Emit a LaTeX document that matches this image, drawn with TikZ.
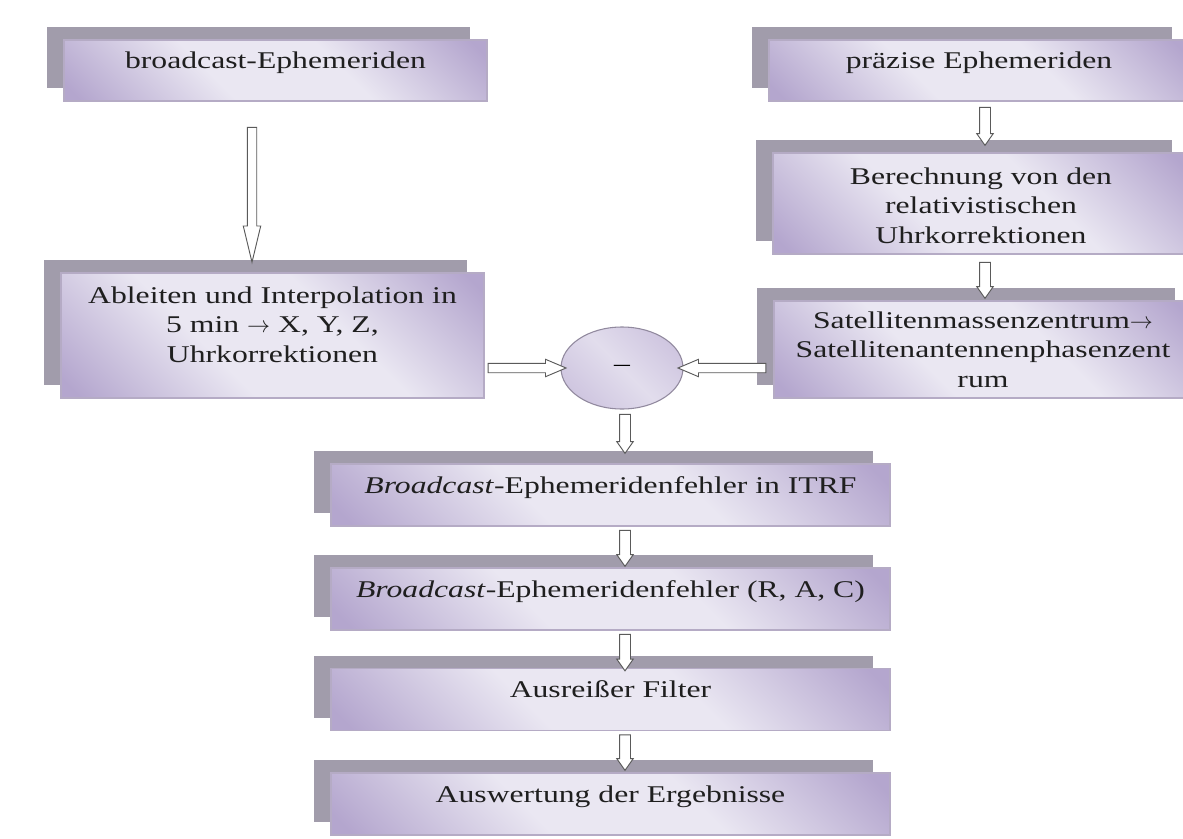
\documentclass[tikz,border=0pt]{standalone}
\usepackage{fontspec}
\setmainfont{Liberation Serif}[FakeStretch=1.32]
\usetikzlibrary{calc,positioning,shapes,shapes.arrows,shadows}

\definecolor{shadowgray}{HTML}{A19CAB}
\definecolor{lavlight}{HTML}{EAE7F2}
\definecolor{lavdark}{HTML}{B4A6CE}
\definecolor{lavmid}{HTML}{CFC6E0}
\definecolor{rim}{HTML}{B5ABC5}
\definecolor{arrowrim}{HTML}{5A5A5A}

\pgfdeclareverticalshading{lavshade}{100bp}{color(0bp)=(lavdark); color(17bp)=(lavdark);
  color(40bp)=(lavlight); color(60bp)=(lavlight); color(83bp)=(lavdark); color(100bp)=(lavdark)}
\pgfdeclareverticalshading{lavround}{100bp}{color(0bp)=(lavmid); color(25bp)=(lavmid);
  color(50bp)=(lavlight!70!lavmid); color(75bp)=(lavmid); color(100bp)=(lavmid)}

\newcommand{\px}{0.75pt}

\tikzset{
  box/.style={rectangle, draw=rim, line width=0.8pt, inner sep=0pt,
    shading=lavshade, shading angle=-45,
    align=center, text=black!88, font=\fontsize{18}{22}\selectfont,
    drop shadow={shadow xshift=-12.75pt, shadow yshift=9.75pt, fill=shadowgray, opacity=1}},
  onerow/.style={text height=12.6pt, text depth=15pt},
  lines/.style={text height=#1, text depth=2pt},
  diff/.style={ellipse, draw=rim!80!black, line width=0.8pt, inner sep=0pt,
    minimum width=122*\px, minimum height=82*\px,
    shading=lavround, shading angle=-45,
    font=\fontsize{18}{22}\selectfont},
  blockarrow/.style={single arrow, draw=arrowrim, fill=white, line width=0.7pt,
    inner xsep=0pt, inner ysep=4.25*\px, single arrow head extend=4*\px},
  short/.style={single arrow tip angle=70, inner ysep=5*\px, single arrow head extend=2.75*\px},
  hollow/.style={to path={
    let \p1=(\tikztostart), \p2=(\tikztotarget),
        \n1={veclen(\x2-\x1,\y2-\y1)}, \n2={atan2(\y2-\y1,\x2-\x1)} in
    ($(\p1)!.5!(\p2)$) node[blockarrow, minimum height=\n1, rotate=\n2, #1] {}}}
}

\begin{document}
\begin{tikzpicture}[x=\px, y=-\px]
\useasboundingbox (0,0) rectangle (1183,839);
\clip (0,0) rectangle (1183,839);

% linke Spalte
\node[box, onerow, minimum width=423*\px, minimum height=61*\px] (bcast) at (275.5,70.5) {broadcast-Ephemeriden};
\node[box, lines=41.75pt, minimum width=423*\px, minimum height=125*\px] (ableit) at (272.5,335.5)
  {Ableiten und Interpolation in\\5 min $\rightarrow$ X, Y, Z,\\Uhrkorrektionen};

% rechte Spalte
\node[box, onerow, minimum width=420*\px, minimum height=61*\px] (praez) at (979,70.5) {präzise Ephemeriden};
\node[box, lines=61.25pt, minimum width=416*\px, minimum height=101*\px] (berech) at (981,203.5)
  {Berechnung von den\\relativistischen\\Uhrkorrektionen};
\node[box, lines=58.25pt, minimum width=418*\px, minimum height=97*\px] (satell) at (983,349.5)
  {Satellitenmassenzentrum$\rightarrow$\\Satellitenantennenphasenzent\\rum};

% Differenz
\node[diff] (minus) at (622,368) {--};

% untere Spalte
\node[box, onerow, minimum width=559*\px, minimum height=62*\px] (itrf) at (610.5,495) {\textit{Broadcast}-Ephemeridenfehler in ITRF};
\node[box, onerow, minimum width=559*\px, minimum height=62*\px] (rac) at (610.5,599) {\textit{Broadcast}-Ephemeridenfehler (R, A, C)};
\node[box, onerow, minimum width=559*\px, minimum height=62*\px] (filter) at (610.5,699.5) {Ausreißer Filter};
\node[box, onerow, minimum width=559*\px, minimum height=62*\px] (ausw) at (610.5,804) {Auswertung der Ergebnisse};

% Pfeile
\path ($(bcast.south -| 252,0)+(0,16)$) to[hollow={single arrow tip angle=27}] ($(ableit.north -| 252,0)+(0,-20)$);
\path ($(praez.south -| 985,0)+(0,2)$) to[hollow=short] ($(berech.north -| 985,0)+(0,-11)$);
\path ($(berech.south -| 985,0)+(0,4)$) to[hollow=short] ($(satell.north -| 985,0)+(0,-6)$);
\path ($(ableit.east |- minus.west)+(-2,0)$) to[hollow={single arrow tip angle=46}] (minus.west);
\path ($(satell.west |- minus.east)+(-2,0)$) to[hollow={single arrow tip angle=46}] (minus.east);
\path ($(minus.south -| 625,0)+(0,1)$) to[hollow=short] ($(itrf.north -| 625,0)+(0,-14)$);
\path (itrf.south -| 625,0) to[hollow=short] ($(rac.north -| 625,0)+(0,-5)$);
\path (rac.south -| 625,0) to[hollow=short] ($(filter.north -| 625,0)+(0,-1)$);
\path (filter.south -| 625,0) to[hollow=short] ($(ausw.north -| 625,0)+(0,-6)$);

\end{tikzpicture}
\end{document}
